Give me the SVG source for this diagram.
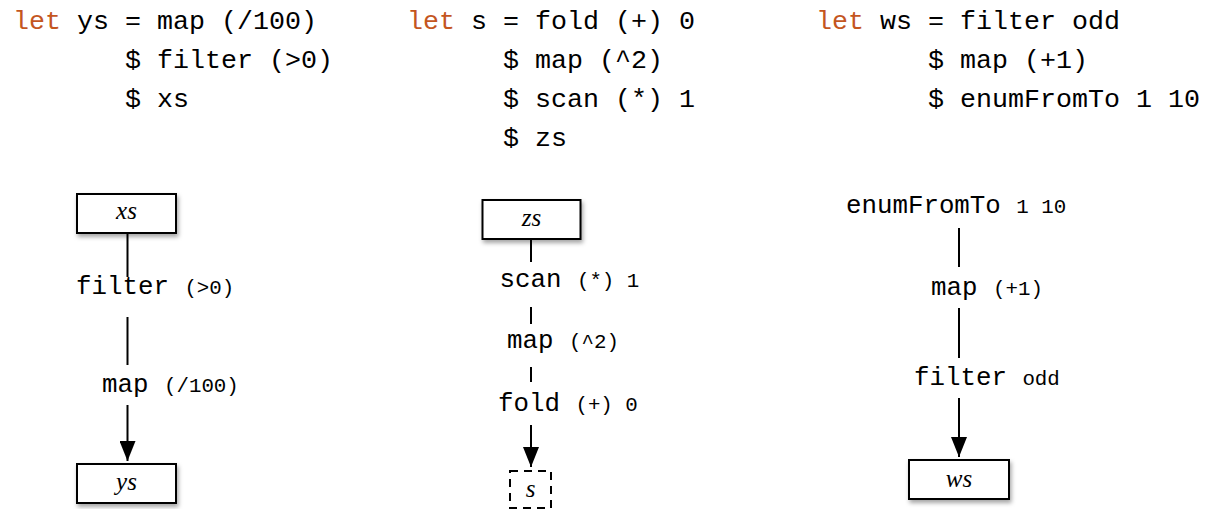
<svg xmlns="http://www.w3.org/2000/svg" width="1214" height="509" viewBox="0 0 1214 509">
  <style>
    .code { font-family: "Liberation Mono", "DejaVu Sans Mono", monospace; font-size: 26.67px; fill: #000; }
    .kw { fill: #c4561f; }
    .lb { font-family: "Liberation Mono", "DejaVu Sans Mono", monospace; font-size: 25.8px; fill: #000; }
    .sm { font-size: 20.8px; }
    .var { font-family: "Liberation Serif", "DejaVu Serif", serif; font-style: italic; font-size: 25px; fill: #000; text-anchor: middle; }
    .box { fill: #fff; stroke: #000; stroke-width: 2; filter: url(#shadow); }
    .dbox { fill: none; stroke: #000; stroke-width: 2; stroke-dasharray: 8 6; }
    .edge { stroke: #000; stroke-width: 2; fill: none; }
    .arrow { marker-end: url(#head); }
  </style>
  <defs>
    <filter id="shadow" x="-20%" y="-30%" width="150%" height="180%">
      <feDropShadow dx="1.5" dy="3" stdDeviation="2" flood-color="#000" flood-opacity="0.35"/>
    </filter>
    <marker id="head" markerUnits="userSpaceOnUse" markerWidth="20" markerHeight="16" refX="20" refY="8" orient="auto">
      <path d="M0,0 L20,8 L0,16 z" fill="#000"/>
    </marker>
  </defs>

  <!-- source code -->
  <g id="code-ys">
    <text class="code" x="13" y="29"><tspan class="kw">let</tspan> ys = map (/100)</text>
    <text class="code" x="125" y="68">$ filter (&gt;0)</text>
    <text class="code" x="125" y="107">$ xs</text>
  </g>
  <g id="code-s">
    <text class="code" x="407" y="29"><tspan class="kw">let</tspan> s = fold (+) 0</text>
    <text class="code" x="503" y="68">$ map (^2)</text>
    <text class="code" x="503" y="107">$ scan (*) 1</text>
    <text class="code" x="503" y="146">$ zs</text>
  </g>
  <g id="code-ws">
    <text class="code" x="816" y="29"><tspan class="kw">let</tspan> ws = filter odd</text>
    <text class="code" x="928" y="68">$ map (+1)</text>
    <text class="code" x="928" y="107">$ enumFromTo 1 10</text>
  </g>

  <!-- connectors -->
  <g id="connectors">
    <line class="edge" x1="127.5" y1="233" x2="127.5" y2="277"/>
    <line class="edge" x1="127.5" y1="317" x2="127.5" y2="365"/>
    <line class="edge arrow" x1="127.5" y1="405" x2="127.5" y2="461"/>

    <line class="edge" x1="531" y1="239" x2="531" y2="262"/>
    <line class="edge" x1="531" y1="307" x2="531" y2="324"/>
    <line class="edge" x1="531" y1="367" x2="531" y2="382"/>
    <line class="edge arrow" x1="531" y1="425" x2="531" y2="467"/>

    <line class="edge" x1="959" y1="228" x2="959" y2="267"/>
    <line class="edge" x1="959" y1="308" x2="959" y2="358"/>
    <line class="edge arrow" x1="959" y1="398" x2="959" y2="457"/>
  </g>

  <!-- pipeline 1 -->
  <g id="node-xs">
    <rect class="box" x="77" y="194" width="99" height="39"/>
    <text class="var" x="126.5" y="219">xs</text>
  </g>
  <g id="stage-filter-pos">
    <text class="lb" x="76" y="294">filter <tspan class="sm">(&gt;0)</tspan></text>
  </g>
  <g id="stage-map-div">
    <text class="lb" x="102" y="392">map <tspan class="sm">(/100)</tspan></text>
  </g>
  <g id="node-ys">
    <rect class="box" x="77" y="464" width="99" height="39"/>
    <text class="var" x="126.5" y="490">ys</text>
  </g>

  <!-- pipeline 2 -->
  <g id="node-zs">
    <rect class="box" x="482.5" y="200" width="98" height="39"/>
    <text class="var" x="531.5" y="226">zs</text>
  </g>
  <g id="stage-scan">
    <text class="lb" x="499.5" y="287">scan <tspan class="sm">(*) 1</tspan></text>
  </g>
  <g id="stage-map-sq">
    <text class="lb" x="507" y="348">map <tspan class="sm">(^2)</tspan></text>
  </g>
  <g id="stage-fold">
    <text class="lb" x="498" y="411">fold <tspan class="sm">(+) 0</tspan></text>
  </g>
  <g id="node-s">
    <rect class="dbox" x="510" y="471" width="41" height="37"/>
    <text class="var" x="530.5" y="497">s</text>
  </g>

  <!-- pipeline 3 -->
  <g id="stage-enum">
    <text class="lb" x="846" y="213">enumFromTo <tspan class="sm">1 10</tspan></text>
  </g>
  <g id="stage-map-inc">
    <text class="lb" x="931" y="295">map <tspan class="sm">(+1)</tspan></text>
  </g>
  <g id="stage-filter-odd">
    <text class="lb" x="914" y="385">filter <tspan class="sm">odd</tspan></text>
  </g>
  <g id="node-ws">
    <rect class="box" x="909" y="460" width="100" height="39"/>
    <text class="var" x="959" y="487">ws</text>
  </g>
</svg>
